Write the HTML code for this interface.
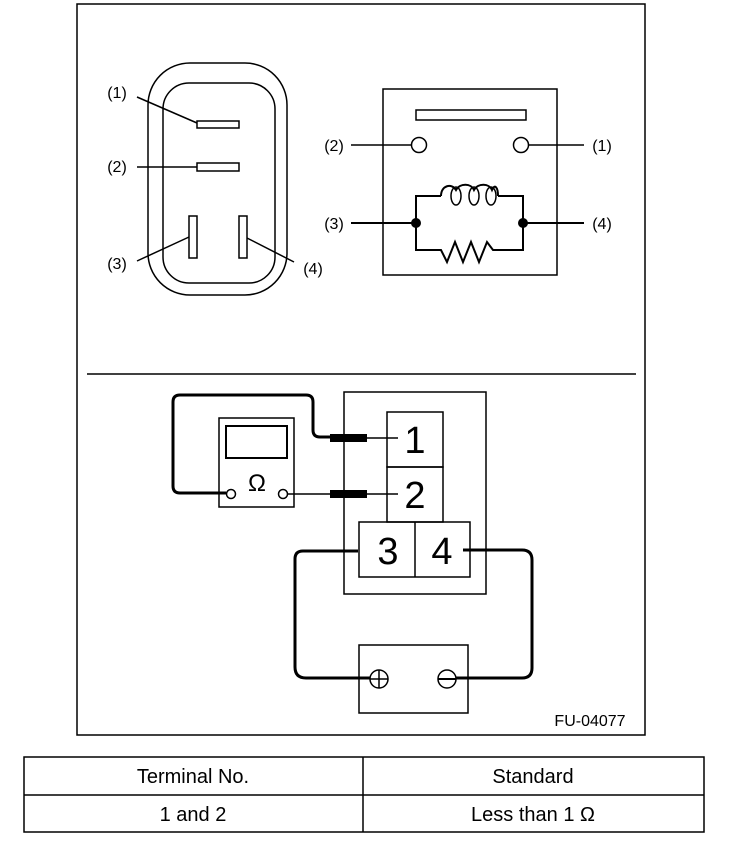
<!DOCTYPE html>
<html><head><style>
body{margin:0;background:#fff;width:736px;height:860px;overflow:hidden}
svg{position:absolute;left:0;top:0}
text{font-family:"Liberation Sans",sans-serif;fill:#000}
</style></head><body>
<svg width="736" height="860" viewBox="0 0 736 860">
<g fill="none" stroke="#000" stroke-width="1.5">
<rect x="77" y="4" width="568" height="731"/>
<line x1="87" y1="374" x2="636" y2="374"/>
<!-- left connector -->
<rect x="148" y="63" width="139" height="232" rx="42"/>
<rect x="163" y="83" width="112" height="200" rx="26"/>
<rect x="197" y="121" width="42" height="7"/>
<rect x="197" y="163" width="42" height="8"/>
<rect x="189" y="216" width="8" height="42"/>
<rect x="239" y="216" width="8" height="42"/>
<line x1="137" y1="97" x2="197" y2="123"/>
<line x1="137" y1="167" x2="197" y2="167"/>
<line x1="137" y1="261" x2="189" y2="237"/>
<line x1="247" y1="238" x2="294" y2="262"/>
<!-- right box -->
<rect x="383" y="89" width="174" height="186"/>
<rect x="416" y="110" width="110" height="10"/>
<circle cx="419" cy="145" r="7.5"/>
<circle cx="521" cy="145" r="7.5"/>
<line x1="351" y1="145" x2="411" y2="145"/>
<line x1="529" y1="145" x2="584" y2="145"/>
<line x1="351" y1="223" x2="416" y2="223" stroke-width="2"/>
<line x1="523" y1="223" x2="584" y2="223" stroke-width="2"/>
<path d="M416 223 V196 H441 M498 196 H523 V223 M416 223 V250 H441 L447 262 L455 242 L463 262 L471 242 L479 262 L487 242 L493 250 H523 V223" stroke-width="2"/>
<path d="M441 196 C441 185 452 183 456 190 C460 183 471 183 474 190 C478 183 489 183 492 190 C495 183 498 188 498 196" stroke-width="2"/>
<ellipse cx="456" cy="196" rx="5" ry="9"/>
<ellipse cx="474" cy="196" rx="5" ry="9"/>
<ellipse cx="491" cy="196" rx="5" ry="9"/>
<!-- bottom -->
<rect x="344" y="392" width="142" height="202"/>
<rect x="387" y="412" width="56" height="55"/>
<rect x="387" y="467" width="56" height="55"/>
<rect x="359" y="522" width="111" height="55"/>
<line x1="415" y1="522" x2="415" y2="577"/>
<rect x="219" y="418" width="75" height="89"/>
<rect x="226" y="426" width="61" height="32" stroke-width="2"/>
<circle cx="231" cy="494" r="4.5"/>
<circle cx="283" cy="494" r="4.5"/>
<path d="M226 493 H180 Q173 493 173 486 V402 Q173 395 180 395 H306 Q313 395 313 402 V430 Q313 437 320 437 H330" stroke-width="3"/>
<line x1="367" y1="438" x2="398" y2="438"/>
<line x1="288" y1="494" x2="330" y2="494"/>
<line x1="367" y1="494" x2="398" y2="494"/>
<line x1="330" y1="438" x2="367" y2="438" stroke-width="8"/>
<line x1="330" y1="494" x2="367" y2="494" stroke-width="8"/>
<path d="M358 551 H303 Q295 551 295 559 V667 Q295 678 306 678 H370" stroke-width="3"/>
<path d="M463 550 H522 Q532 550 532 560 V668 Q532 678 522 678 H456" stroke-width="3"/>
<rect x="359" y="645" width="109" height="68"/>
<circle cx="379" cy="679" r="9"/>
<line x1="370" y1="679" x2="388" y2="679"/><line x1="379" y1="670" x2="379" y2="688"/>
<circle cx="447" cy="679" r="9"/>
<line x1="438" y1="679" x2="456" y2="679" stroke-width="2"/>
<!-- table -->
<rect x="24" y="757" width="680" height="75"/>
<line x1="24" y1="795" x2="704" y2="795"/>
<line x1="363" y1="757" x2="363" y2="832"/>
</g>
<circle cx="416" cy="223" r="5"/><circle cx="523" cy="223" r="5"/>
<g font-size="16" text-anchor="middle">
<text x="117" y="98">(1)</text>
<text x="117" y="172">(2)</text>
<text x="117" y="269">(3)</text>
<text x="313" y="274">(4)</text>
<text x="334" y="151">(2)</text>
<text x="602" y="151">(1)</text>
<text x="334" y="229">(3)</text>
<text x="602" y="229">(4)</text>
</g>
<g font-size="38" text-anchor="middle">
<text x="415" y="453">1</text>
<text x="415" y="508">2</text>
<text x="388" y="564">3</text>
<text x="442" y="564">4</text>
</g>
<text x="257" y="491" font-size="24" text-anchor="middle">Ω</text>
<text x="590" y="726" font-size="16" text-anchor="middle">FU-04077</text>
<g font-size="20" text-anchor="middle">
<text x="193" y="783">Terminal No.</text>
<text x="533" y="783">Standard</text>
<text x="193" y="821">1 and 2</text>
<text x="533" y="821">Less than 1 Ω</text>
</g>
</svg>
</body></html>
